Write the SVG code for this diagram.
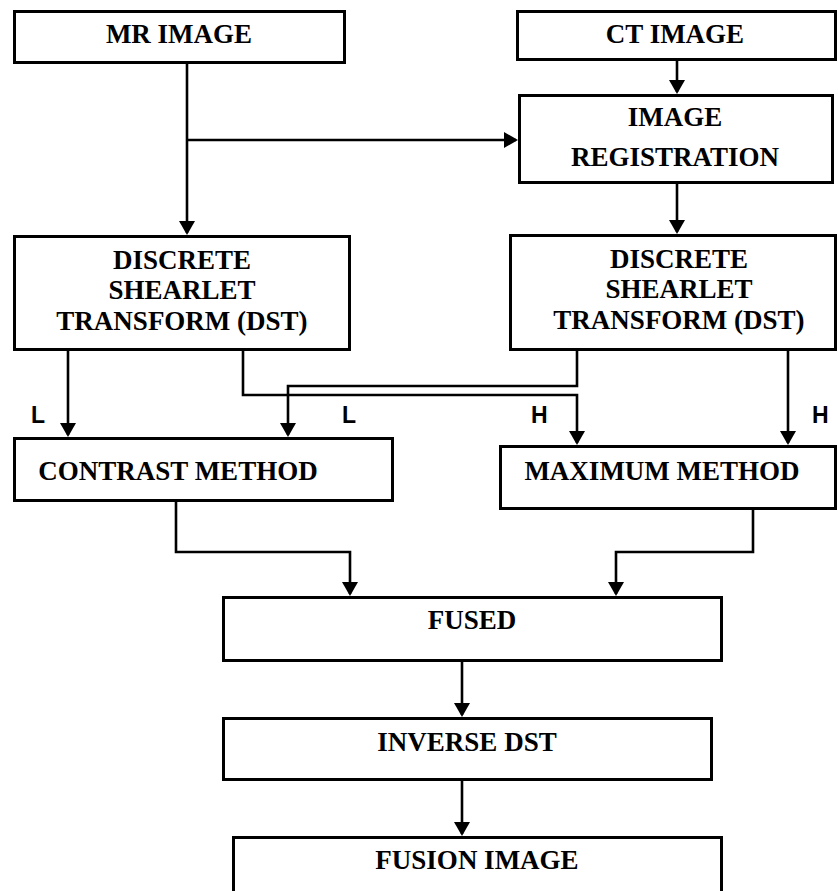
<svg xmlns="http://www.w3.org/2000/svg" width="838" height="891" viewBox="0 0 838 891">
<style>
.box{fill:#fff;stroke:#000;stroke-width:3}
.t{font-family:"Liberation Serif","Times New Roman",serif;font-weight:bold;font-size:27px;text-anchor:middle;fill:#000}
.lbl{font-family:"Liberation Sans",Arial,sans-serif;font-weight:bold;font-size:23px;fill:#000}
.c{fill:none;stroke:#000;stroke-width:2.6;marker-end:url(#ah)}
</style>
<defs>
<marker id="ah" markerUnits="userSpaceOnUse" markerWidth="16" markerHeight="16" viewBox="0 0 14 16" refX="12" refY="8" orient="auto">
<path d="M0,0 L14,8 L0,16 Z" fill="#000"/>
</marker>
</defs>
<rect x="0" y="0" width="838" height="891" fill="#fff"/>
<g id="connectors">
<path class="c" d="M187,63 V233"/>
<path class="c" d="M187,140 H516"/>
<path class="c" d="M677,61 V92"/>
<path class="c" d="M677,184 V232"/>
<path class="c" d="M68,351 V435"/>
<path class="c" d="M243,351 V395 H577 V443"/>
<path class="c" d="M577,350 V386 H288 V435"/>
<path class="c" d="M788,350 V443"/>
<path class="c" d="M176,502 V552 H350 V594"/>
<path class="c" d="M753,509 V552 H616 V594"/>
<path class="c" d="M462,662 V715"/>
<path class="c" d="M462,780 V834"/>
</g>
<g id="labels">
<text class="lbl" x="31" y="423">L</text>
<text class="lbl" x="342" y="423">L</text>
<text class="lbl" x="531" y="423">H</text>
<text class="lbl" x="812" y="423">H</text>
</g>
<g id="mr-image">
<rect class="box" x="14.5" y="11.5" width="330" height="51"/>
<text class="t" x="179" y="43">MR IMAGE</text>
</g>
<g id="ct-image">
<rect class="box" x="517.5" y="11.5" width="318" height="48"/>
<text class="t" x="675" y="43">CT IMAGE</text>
</g>
<g id="image-registration">
<rect class="box" x="519.5" y="95.5" width="313" height="87"/>
<text class="t" x="675" y="126">IMAGE</text>
<text class="t" x="675" y="166">REGISTRATION</text>
</g>
<g id="dst-left">
<rect class="box" x="14.5" y="236.5" width="335" height="113"/>
<text class="t" x="182" y="269">DISCRETE</text>
<text class="t" x="182" y="299">SHEARLET</text>
<text class="t" x="182" y="330">TRANSFORM (DST)</text>
</g>
<g id="dst-right">
<rect class="box" x="510.5" y="235.5" width="325" height="114"/>
<text class="t" x="679" y="268">DISCRETE</text>
<text class="t" x="679" y="298">SHEARLET</text>
<text class="t" x="679" y="329">TRANSFORM (DST)</text>
</g>
<g id="contrast-method">
<rect class="box" x="14.5" y="438.5" width="378" height="62"/>
<text class="t" x="178" y="480">CONTRAST METHOD</text>
</g>
<g id="maximum-method">
<rect class="box" x="500.5" y="446.5" width="335" height="62"/>
<text class="t" x="662" y="480">MAXIMUM METHOD</text>
</g>
<g id="fused">
<rect class="box" x="223.5" y="597.5" width="498" height="63"/>
<text class="t" x="472" y="629">FUSED</text>
</g>
<g id="inverse-dst">
<rect class="box" x="223.5" y="718.5" width="488" height="61"/>
<text class="t" x="467" y="751">INVERSE DST</text>
</g>
<g id="fusion-image">
<rect class="box" x="233.5" y="837.5" width="488" height="80"/>
<text class="t" x="477" y="869">FUSION IMAGE</text>
</g>
</svg>
